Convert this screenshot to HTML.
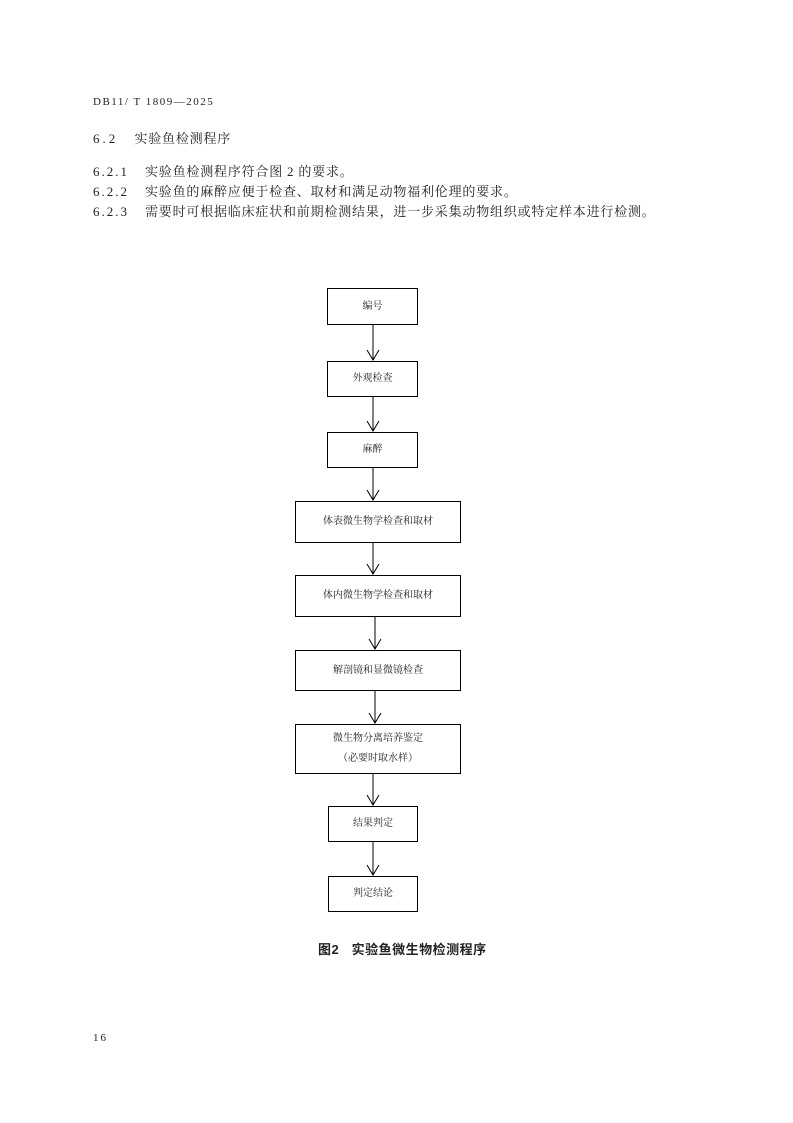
<!DOCTYPE html>
<html><head><meta charset="utf-8"><style>
body{margin:0;background:#fff;width:793px;height:1123px;position:relative;font-family:"Liberation Serif","Noto Serif CJK SC",serif;color:#222}
.t{position:absolute;white-space:nowrap}
.b{position:absolute;border:1px solid #000;box-sizing:border-box;font-size:10px;display:flex;align-items:center;justify-content:center;flex-direction:column;text-align:center;line-height:20px}
.p{letter-spacing:0.8px}
</style></head><body>
<div class="t" style="left:93px;top:96px;font-size:11px;letter-spacing:1.5px">DB11/ T 1809—2025</div>
<div class="t p" style="left:93px;top:128px;font-size:13px"><span style="letter-spacing:3px">6.2</span>&nbsp;&nbsp;&nbsp;&nbsp;实验鱼检测程序</div>
<div class="t p" style="left:93px;top:161px;font-size:13px"><span style="display:inline-block;width:52px;letter-spacing:2px">6.2.1</span>实验鱼检测程序符合图 2 的要求。</div>
<div class="t p" style="left:93px;top:181px;font-size:13px"><span style="display:inline-block;width:52px;letter-spacing:2px">6.2.2</span>实验鱼的麻醉应便于检查、取材和满足动物福利伦理的要求。</div>
<div class="t p" style="left:93px;top:201px;font-size:13px"><span style="display:inline-block;width:52px;letter-spacing:2px">6.2.3</span>需要时可根据临床症状和前期检测结果，进一步采集动物组织或特定样本进行检测。</div>

<div class="b" style="left:327px;top:288px;width:91px;height:37px">编号</div>
<div class="b" style="left:327px;top:361px;width:91px;height:36px">外观检查</div>
<div class="b" style="left:327px;top:432px;width:91px;height:36px">麻醉</div>
<div class="b" style="left:295px;top:501px;width:166px;height:42px">体表微生物学检查和取材</div>
<div class="b" style="left:295px;top:575px;width:166px;height:42px">体内微生物学检查和取材</div>
<div class="b" style="left:295px;top:650px;width:166px;height:41px">解剖镜和显微镜检查</div>
<div class="b" style="left:295px;top:724px;width:166px;height:50px"><div>微生物分离培养鉴定</div><div>（必要时取水样）</div></div>
<div class="b" style="left:328px;top:806px;width:90px;height:36px">结果判定</div>
<div class="b" style="left:328px;top:876px;width:90px;height:36px">判定结论</div>

<svg width="793" height="1123" style="position:absolute;left:0;top:0" fill="none" stroke="#000" stroke-width="1">
<g>
<path d="M373 325V360M367 350L373 360L379 350"/>
<path d="M373 397V431M367 421L373 431L379 421"/>
<path d="M373 468V500M367 490L373 500L379 490"/>
<path d="M373 543V574M367 564L373 574L379 564"/>
<path d="M375 617V649M369 639L375 649L381 639"/>
<path d="M375 691V723M369 713L375 723L381 713"/>
<path d="M373 774V805M367 795L373 805L379 795"/>
<path d="M373 842V875M367 865L373 875L379 865"/>
</g></svg>
<div class="t" style="left:318px;top:939px;font-size:13px;font-weight:bold;letter-spacing:0.5px;font-family:'Liberation Sans','Noto Sans CJK SC',sans-serif">图2&nbsp;&nbsp;&nbsp;实验鱼微生物检测程序</div>
<div class="t" style="left:93px;top:1032px;font-size:11px;letter-spacing:2px">16</div>
</body></html>
